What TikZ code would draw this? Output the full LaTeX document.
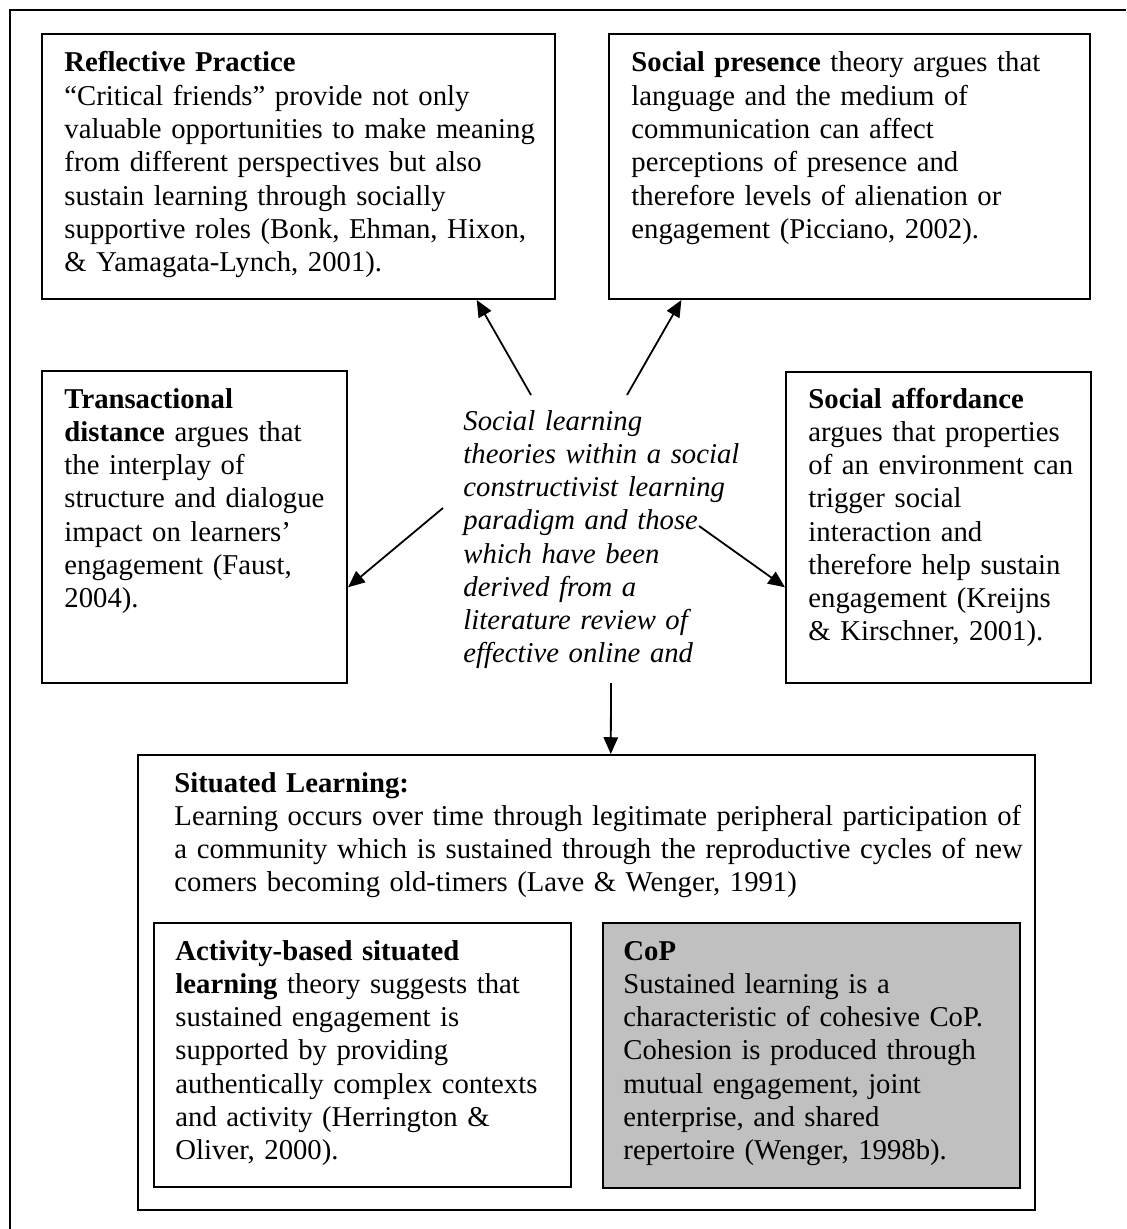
\documentclass[tikz,border=0pt]{standalone}
\usepackage{fontspec}
\setmainfont{Liberation Serif}
\usetikzlibrary{arrows.meta,fit,calc,shadows}
\definecolor{copgray}{HTML}{C0C0C0}
\begin{document}
\begin{tikzpicture}[x=0.418pt,y=-0.418pt,
  box/.style={draw=black, line width=0.85pt, inner sep=0pt, fill=white,
    drop shadow={shadow xshift=0.45pt, shadow yshift=-0.45pt, fill=black!45, opacity=1}},
  txt/.style={anchor=base west, inner sep=0pt, align=left, text width=440pt,
    font=\fontsize{12}{13.9}\selectfont},
  arr/.style={line width=0.75pt, -{Triangle[length=7pt,width=6pt]}},
]
\useasboundingbox (0,0) rectangle (1126,1229);

% outer frame (open to the right and bottom)
\draw[line width=0.85pt] (1126,10) -- (10,10) -- (10,1229);

% boxes
\node[box, fit={(42,34)(555,299)}] (rp) {};
\node[box, fit={(609,34)(1090,299)}] (sp) {};
\node[box, fit={(42,371)(347,683)}] (td) {};
\node[box, fit={(786,372)(1091,683)}] (sa) {};
\node[box, fit={(138,755)(1035,1210)}] (sl) {};
\node[box, fit={(154,923)(571,1187)}] (ab) {};
\node[box, fill=copgray, fit={(603,923)(1020,1188)}] (cop) {};

% box texts
\node[txt] (rpt) at (64,72) {\textbf{Reflective Practice}\\
“Critical friends” provide not only\\
valuable opportunities to make meaning\\
from different perspectives but also\\
sustain learning through socially\\
supportive roles (Bonk, Ehman, Hixon,\\
\& Yamagata-Lynch, 2001).};

\node[txt] (spt) at (631,72) {\textbf{Social presence} theory argues that\\
language and the medium of\\
communication can affect\\
perceptions of presence and\\
therefore levels of alienation or\\
engagement (Picciano, 2002).};

\node[txt] (tdt) at (64,408) {\textbf{Transactional}\\
\textbf{distance} argues that\\
the interplay of\\
structure and dialogue\\
impact on learners’\\
engagement (Faust,\\
2004).};

\node[txt] (sat) at (808,408) {\textbf{Social affordance}\\
argues that properties\\
of an environment can\\
trigger social\\
interaction and\\
therefore help sustain\\
engagement (Kreijns\\
\& Kirschner, 2001).};

\node[txt, font=\fontsize{12}{13.9}\selectfont\itshape] (ctr) at (463,430) {Social learning\\
theories within a social\\
constructivist learning\\
paradigm and those\\
which have been\\
derived from a\\
literature review of\\
effective online and};

\node[txt] (slt) at (174,792) {\textbf{Situated Learning:}\\
Learning occurs over time through legitimate peripheral participation of\\
a community which is sustained through the reproductive cycles of new\\
comers becoming old-timers (Lave \& Wenger, 1991)};

\node[txt] (abt) at (175,960) {\textbf{Activity-based situated}\\
\textbf{learning} theory suggests that\\
sustained engagement is\\
supported by providing\\
authentically complex contexts\\
and activity (Herrington \&\\
Oliver, 2000).};

\node[txt] (copt) at (623,960) {\textbf{CoP}\\
Sustained learning is a\\
characteristic of cohesive CoP.\\
Cohesion is produced through\\
mutual engagement, joint\\
enterprise, and shared\\
repertoire (Wenger, 1998b).};

% connectors from the central statement
\coordinate (a1) at (531,395);
\coordinate (a2) at (627,395);
\coordinate (a3) at (443,508);
\coordinate (a4) at (699,526);
\coordinate (a5) at (611,683);
\draw[arr] (a1) -- ($(rp.south west)!0.846!(rp.south east)$);
\draw[arr] (a2) -- ($(sp.south west)!0.152!(sp.south east)$);
\draw[arr] (a3) -- ($(td.north east)!0.692!(td.south east)$);
\draw[arr] (a4) -- ($(sa.north west)!0.691!(sa.south west)$);
\draw[arr] (a5) -- ($(sl.north west)!0.527!(sl.north east)$);
\end{tikzpicture}
\end{document}
